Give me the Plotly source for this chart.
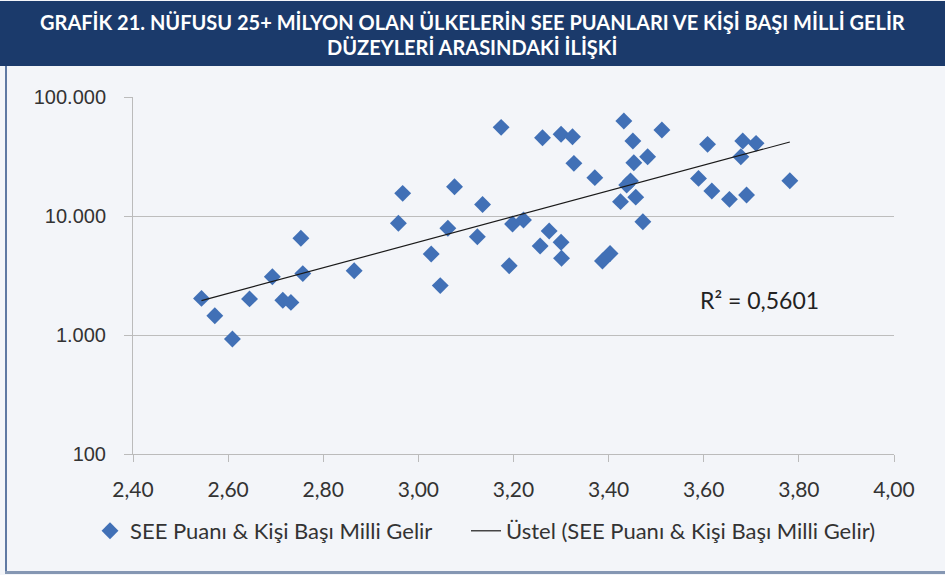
import numpy as np
import plotly.graph_objects as go

# SEE score (x) and per-capita national income (y)
see_score = [2.544, 2.572, 2.609, 2.645, 2.693, 2.715, 2.732, 2.753, 2.757, 2.865,
             2.958, 2.967, 3.027, 3.046, 3.062, 3.076, 3.124, 3.135, 3.174, 3.191,
             3.198, 3.221, 3.256, 3.261, 3.275, 3.300, 3.301, 3.300, 3.324, 3.327,
             3.371, 3.387, 3.403, 3.425, 3.432, 3.438, 3.446, 3.451, 3.453, 3.457,
             3.472, 3.482, 3.512, 3.589, 3.608, 3.617, 3.654, 3.678, 3.682, 3.690,
             3.710, 3.781]
income = [2030, 1450, 925, 2010, 3090, 1960, 1880, 6500, 3280, 3470,
          8690, 15500, 4790, 2600, 7880, 17600, 6700, 12500, 55600, 3820,
          8570, 9250, 5600, 45500, 7480, 6010, 4410, 48600, 46400, 27700,
          21000, 4190, 4840, 13200, 62900, 18200, 19700, 42700, 28000, 14400,
          8960, 31500, 52800, 20700, 40000, 16200, 13800, 31500, 42700, 15000,
          40800, 19800]

x_tickvals = [2.4, 2.6, 2.8, 3.0, 3.2, 3.4, 3.6, 3.8, 4.0]
x_ticktext = ["2,40", "2,60", "2,80", "3,00", "3,20", "3,40", "3,60", "3,80", "4,00"]
y_tickvals = [100, 1000, 10000, 100000]
y_ticktext = ["100", "1.000", "10.000", "100.000"]

title_lines = ["GRAFİK 21. NÜFUSU 25+ MİLYON OLAN ÜLKELERİN SEE PUANLARI VE KİŞİ BAŞI MİLLİ GELİR",
               "DÜZEYLERİ ARASINDAKİ İLİŞKİ"]
series_name = "SEE Puanı & Kişi Başı Milli Gelir"
trend_name = "Üstel (SEE Puanı & Kişi Başı Milli Gelir)"
r2_text = "R² = 0,5601"

# exponential trend fitted to the data
xs = np.array(see_score)
b, a = np.polyfit(xs, np.log(np.array(income)), 1)
tx = np.array([xs.min(), xs.max()])
ty = np.exp(a + b * tx)

W, H = 945, 575
L, R, T, B = 133, 51, 97, 121
ph = H - T - B
pw = W - L - R

def py(px_from_top):
    return 1 + (T - px_from_top) / ph

def pxx(px):
    return (px - L) / pw

fig = go.Figure()
fig.add_trace(go.Scatter(
    x=see_score, y=income, mode="markers", name=series_name,
    marker=dict(symbol="diamond", size=13, color="#4170B6", line=dict(width=0)),
    legend="legend",
))
fig.add_trace(go.Scatter(
    x=tx, y=ty, mode="lines", name=trend_name,
    line=dict(color="#1a1a1a", width=1.2),
    legend="legend2",
))

BG = "#F3F5F9"
FONT = "Lato, Open Sans, sans-serif"
leg_common = dict(orientation="h", xanchor="left", yanchor="middle",
                  bgcolor="rgba(0,0,0,0)", font=dict(family=FONT, size=22, color="#333333"),
                  itemwidth=30)
fig.update_layout(
    width=W, height=H,
    margin=dict(l=L, r=R, t=T, b=B),
    paper_bgcolor=BG, plot_bgcolor=BG,
    font=dict(family=FONT, size=21, color="#333333"),
    showlegend=True,
    legend=dict(x=pxx(90), y=py(531), **leg_common),
    legend2=dict(x=pxx(466), y=py(531), **leg_common),
    xaxis=dict(range=[2.4, 4.0], tickvals=x_tickvals, ticktext=x_ticktext,
               showgrid=False, zeroline=False, showline=True, linecolor="#BBBBBB",
               linewidth=1, ticks="outside", ticklen=7, tickcolor="#BBBBBB",
               ticklabelstandoff=10,
               tickfont=dict(family=FONT, size=21, color="#333333")),
    yaxis=dict(type="log", range=[2, 5], tickvals=y_tickvals, ticktext=y_ticktext,
               showgrid=True, gridcolor="#BDBDBD", gridwidth=1, zeroline=False,
               showline=True, linecolor="#BBBBBB", linewidth=1,
               ticks="outside", ticklen=8, tickcolor="#BBBBBB",
               ticklabelstandoff=14,
               tickfont=dict(family="Liberation Sans, Arial, sans-serif", size=20, color="#333333")),
)

# title band
fig.add_shape(type="rect", xref="paper", yref="paper",
              x0=pxx(0), x1=pxx(W), y0=py(66), y1=py(1),
              fillcolor="#1B3A6B", line=dict(width=0), layer="below")
# frame borders
fig.add_shape(type="line", xref="paper", yref="paper",
              x0=pxx(6), x1=pxx(6), y0=py(66), y1=py(572),
              line=dict(color="#2E4F86", width=1.5))
fig.add_shape(type="line", xref="paper", yref="paper",
              x0=pxx(5), x1=pxx(W), y0=py(572.5), y1=py(572.5),
              line=dict(color="#8597B3", width=3))

fig.add_annotation(xref="paper", yref="paper", x=pxx(472), y=py(22),
                   text="<b>" + title_lines[0] + "</b>", showarrow=False,
                   font=dict(family="Lato, sans-serif", size=20, color="white"),
                   xanchor="center", yanchor="middle")
fig.add_annotation(xref="paper", yref="paper", x=pxx(472), y=py(47),
                   text="<b>" + title_lines[1] + "</b>", showarrow=False,
                   font=dict(family="Lato, sans-serif", size=20, color="white"),
                   xanchor="center", yanchor="middle")

fig.add_annotation(x=3.718, y=np.log10(1950), xref="x", yref="y",
                   text=r2_text, showarrow=False,
                   font=dict(family=FONT, size=23, color="#222222"),
                   xanchor="center", yanchor="middle")

fig.write_html("out.html", post_script="document.body.style.margin='0';",
               config={"displayModeBar": False})
